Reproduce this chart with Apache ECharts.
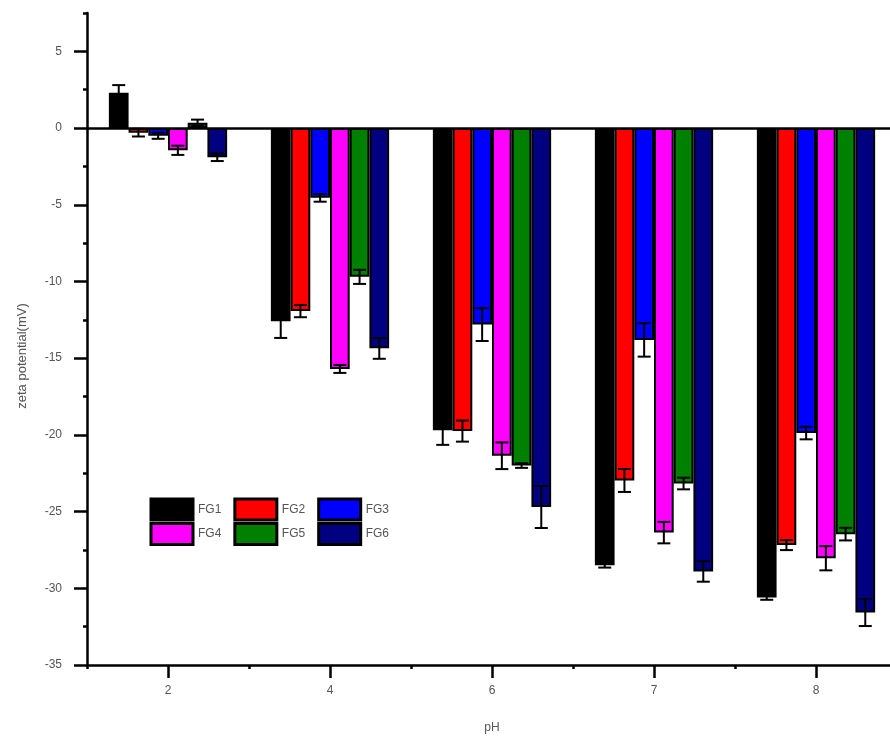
<!DOCTYPE html>
<html>
<head>
<meta charset="utf-8">
<script src="https://cdn.jsdelivr.net/npm/echarts@6/dist/echarts.min.js"></script>
<style>html,body{margin:0;padding:0;background:#fff;}#c{width:890px;height:737px;}</style>
</head>
<body>
<div id="c"></div>
<script>
var categories = ['2', '4', '6', '7', '8'];
var seriesNames = ['FG1', 'FG2', 'FG3', 'FG4', 'FG5', 'FG6'];
var fg1 = [2.3, -12.6, -19.7, -28.5, -30.6];
var fg2 = [-0.3, -11.93, -19.75, -22.97, -27.18];
var fg3 = [-0.5, -4.55, -12.81, -13.81, -19.88];
var fg4 = [-1.45, -15.7, -21.36, -26.37, -28.04];
var fg5 = [0.35, -9.7, -22.0, -23.17, -26.47];
var fg6 = [-1.9, -14.36, -24.7, -28.9, -31.58];
var fg1Err = [0.5, 1.08, 0.95, 0.15, 0.15];
var fg2Err = [0.25, 0.4, 0.69, 0.75, 0.33];
var fg3Err = [0.2, 0.25, 1.07, 1.09, 0.41];
var fg4Err = [0.3, 0.26, 0.87, 0.7, 0.79];
var fg5Err = [0.2, 0.46, 0.15, 0.38, 0.41];
var fg6Err = [0.25, 0.68, 1.37, 0.67, 0.88];
var yTicks = [-35, -30, -25, -20, -15, -10, -5, 0, 5];
var yMinorTicks = [-32.5, -27.5, -22.5, -17.5, -12.5, -7.5, -2.5, 2.5, 7.5];

var values = [fg1, fg2, fg3, fg4, fg5, fg6];
var errs = [fg1Err, fg2Err, fg3Err, fg4Err, fg5Err, fg6Err];
var colors = ['#000000', '#ff0000', '#0000ff', '#ff00ff', '#008000', '#000080'];
var catGap = 0.27;

var chart = echarts.init(document.getElementById('c'));
var series = [];
values.forEach(function (vals, i) {
  var s = {
    name: seriesNames[i],
    type: 'bar',
    xAxisIndex: 0,
    yAxisIndex: 0,
    data: vals,
    barGap: '0%',
    barCategoryGap: (catGap * 100) + '%',
    itemStyle: { color: colors[i], borderColor: '#000', borderWidth: 2 },
    emphasis: { disabled: true },
    animation: false,
    z: 2
  };
  if (i === 0) {
    s.markLine = {
      silent: true,
      symbol: ['none', 'none'],
      label: { show: false },
      lineStyle: { color: '#000', width: 2.5, type: 'solid' },
      data: [{ yAxis: 0 }],
      animation: false
    };
  }
  series.push(s);
});
values.forEach(function (vals, i) {
  var data = vals.map(function (v, j) { return [j, v - errs[i][j], v + errs[i][j]]; });
  series.push({
    name: seriesNames[i] + ' err',
    type: 'custom',
    xAxisIndex: 0,
    yAxisIndex: 0,
    data: data,
    encode: { x: 0, y: [1, 2] },
    z: 5,
    silent: true,
    animation: false,
    renderItem: function (params, api) {
      var c = api.value(0);
      var lo = api.coord([c, api.value(1)]);
      var hi = api.coord([c, api.value(2)]);
      var band = api.size([1, 0])[0];
      var bw = band * (1 - catGap) / 6;
      var x = lo[0] + (i - 2.5) * bw;
      var hw = 6.5;
      var st = { stroke: '#000', lineWidth: 2 };
      return {
        type: 'group',
        children: [
          { type: 'line', shape: { x1: x, y1: lo[1], x2: x, y2: hi[1] }, style: st },
          { type: 'line', shape: { x1: x - hw, y1: lo[1], x2: x + hw, y2: lo[1] }, style: st },
          { type: 'line', shape: { x1: x - hw, y1: hi[1], x2: x + hw, y2: hi[1] }, style: st }
        ]
      };
    }
  });
});

var legendCommon = {
  orient: 'horizontal',
  icon: 'rect',
  itemWidth: 42,
  itemHeight: 21,
  itemGap: 12,
  padding: 0,
  left: 149.5,
  selectedMode: false,
  itemStyle: { borderColor: '#000', borderWidth: 3 },
  textStyle: { fontFamily: 'Liberation Sans, Arial, sans-serif', fontSize: 12, color: '#555' }
};

chart.setOption({
  backgroundColor: '#fff',
  animation: false,
  legend: [
    Object.assign({}, legendCommon, { top: 497.5, data: ['FG1', 'FG2', 'FG3'] }),
    Object.assign({}, legendCommon, { top: 522, data: ['FG4', 'FG5', 'FG6'] })
  ],
  grid: { left: 87, width: 810, top: 13, bottom: 72, containLabel: false, outerBoundsMode: 'none' },
  xAxis: [{
    type: 'category',
    data: categories,
    position: 'bottom',
    name: 'pH',
    nameLocation: 'middle',
    nameGap: 57,
    nameTextStyle: { fontFamily: 'Liberation Sans, Arial, sans-serif', fontSize: 12, color: '#555' },
    axisLine: { show: true, onZero: false, lineStyle: { color: '#000', width: 2.5 } },
    axisTick: { show: true, alignWithLabel: true, length: 13, inside: false, lineStyle: { color: '#000', width: 2.5 } },
    axisLabel: { margin: 20, fontFamily: 'Liberation Sans, Arial, sans-serif', fontSize: 12, color: '#555' },
    splitLine: { show: false }
  }, {
    type: 'category',
    data: categories,
    position: 'bottom',
    axisLine: { show: false, onZero: false },
    axisTick: { show: true, alignWithLabel: false, length: 4, lineStyle: { color: '#000', width: 2.5 } },
    axisLabel: { show: false },
    splitLine: { show: false }
  }],
  yAxis: [{
    type: 'value',
    min: -35,
    max: 7.5,
    position: 'left',
    name: 'zeta potential(mV)',
    nameLocation: 'middle',
    nameGap: 58,
    nameRotate: 90,
    nameTextStyle: { fontFamily: 'Liberation Sans, Arial, sans-serif', fontSize: 13, color: '#555', padding: [0, 34, 0, 0] },
    axisLine: { show: true, onZero: false, lineStyle: { color: '#000', width: 2.5 } },
    axisTick: { show: true, length: 13, inside: false, customValues: yTicks, lineStyle: { color: '#000', width: 2.5 } },
    axisLabel: { margin: 25, customValues: yTicks, fontFamily: 'Liberation Sans, Arial, sans-serif', fontSize: 12, color: '#555' },
    splitLine: { show: false }
  }, {
    type: 'value',
    min: -35,
    max: 7.5,
    position: 'left',
    offset: 0,
    axisLine: { show: false, onZero: false },
    axisTick: { show: true, length: 4, customValues: yMinorTicks, lineStyle: { color: '#000', width: 2.5 } },
    axisLabel: { show: false },
    splitLine: { show: false }
  }],
  series: series
});
</script>
</body>
</html>
